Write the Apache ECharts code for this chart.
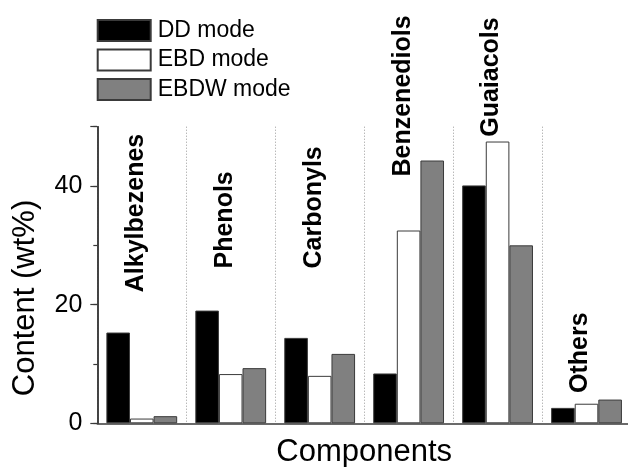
<!DOCTYPE html>
<html>
<head>
<meta charset="utf-8">
<style>
html,body{margin:0;padding:0;background:#fff;}
#chart{width:628px;height:467px;}
</style>
<script src="https://cdn.jsdelivr.net/npm/echarts@6/dist/echarts.min.js"></script>
</head>
<body>
<div id="chart"></div>
<script>
const categories = ['Alkylbezenes', 'Phenols', 'Carbonyls', 'Benzenediols', 'Guaiacols', 'Others'];
const seriesNames = ['DD mode', 'EBD mode', 'EBDW mode'];
const ddMode = [15.3, 19.0, 14.4, 8.4, 40.1, 2.6];
const ebdMode = [0.8, 8.3, 8.0, 32.5, 47.5, 3.3];
const ebdwMode = [1.2, 9.3, 11.7, 44.3, 30.0, 4.0];
// value (wt%) where each vertical category caption starts
const captionBase = [22.1, 26.1, 26.1, 41.6, 48.3, 5.1];
const yTicksMajor = [0, 20, 40];

const FONT = 'Liberation Sans, Arial, Helvetica, sans-serif';
const edge = '#3a3a3a';

const chart = echarts.init(document.getElementById('chart'), null, {renderer: 'canvas'});

function barSeries(name, data, color) {
  return {
    name: name,
    type: 'bar',
    data: data,
    yAxisIndex: 1,
    barWidth: 23.6,
    barGap: '0%',
    itemStyle: {color: color, borderColor: edge, borderWidth: 1},
    emphasis: {disabled: true}
  };
}

const option = {
  animation: false,
  grid: {left: 97.3, right: -3, top: 126.7, bottom: 43.7, containLabel: false, outerBoundsMode: 'none'},
  legend: {
    orient: 'vertical',
    left: 96.7,
    top: 19,
    padding: 0,
    itemWidth: 53,
    itemHeight: 21,
    itemGap: 6.5,
    icon: 'rect',
    data: seriesNames,
    textStyle: {fontFamily: FONT, fontSize: 23, color: '#000', lineHeight: 21, padding: [0, 0, 0, 2]}
  },
  xAxis: {
    type: 'category',
    data: categories,
    boundaryGap: true,
    axisLine: {show: true, lineStyle: {color: edge, width: 1.5}},
    axisTick: {show: false},
    axisLabel: {show: false},
    splitLine: {show: true, interval: 0, lineStyle: {color: '#9a9a9a', type: [1, 2], width: 1}},
    name: 'Components',
    nameLocation: 'middle',
    nameGap: 14,
    nameMoveOverlap: false,
    nameTextStyle: {fontFamily: FONT, fontSize: 31, color: '#000'}
  },
  yAxis: [
    {
      type: 'value',
      min: 0, max: 50, interval: 10,
      position: 'left',
      axisLine: {show: true, lineStyle: {color: edge, width: 1.5}},
      axisTick: {show: true, length: 4, lineStyle: {color: edge, width: 1.2}},
      axisLabel: {show: false},
      splitLine: {show: false}
    },
    {
      type: 'value',
      min: 0, max: 50, interval: 20,
      position: 'left',
      axisLine: {show: true, lineStyle: {color: edge, width: 1.5}},
      axisTick: {show: true, length: 7, lineStyle: {color: edge, width: 1.2}},
      axisLabel: {
        show: true, margin: 15,
        fontFamily: FONT, fontSize: 25, color: '#000',
        formatter: function (v) { return yTicksMajor.indexOf(v) >= 0 ? String(v) : ''; }
      },
      splitLine: {show: false},
      name: 'Content (wt%)',
      nameLocation: 'middle',
      nameGap: 56,
      nameMoveOverlap: false,
      nameTextStyle: {fontFamily: FONT, fontSize: 31, color: '#000', padding: [0, 46, 0, 0]}
    }
  ],
  series: [
    barSeries(seriesNames[0], ddMode, '#000000'),
    barSeries(seriesNames[1], ebdMode, '#ffffff'),
    barSeries(seriesNames[2], ebdwMode, '#808080'),
    {
      type: 'scatter',
      yAxisIndex: 1,
      symbolSize: 0,
      silent: true,
      clip: false,
      itemStyle: {color: '#000', opacity: 1},
      data: categories.map(function (c, i) { return [c, captionBase[i]]; }),
      label: {
        show: true,
        position: 'inside',
        rotate: 90,
        align: 'left',
        verticalAlign: 'middle',
        offset: [0, -6],
        fontFamily: FONT,
        fontSize: 25,
        fontWeight: 'bold',
        color: '#000000',
        opacity: 1,
        textBorderWidth: 0,
        formatter: function (p) { return categories[p.dataIndex]; }
      }
    }
  ]
};
chart.setOption(option);
</script>
</body>
</html>
